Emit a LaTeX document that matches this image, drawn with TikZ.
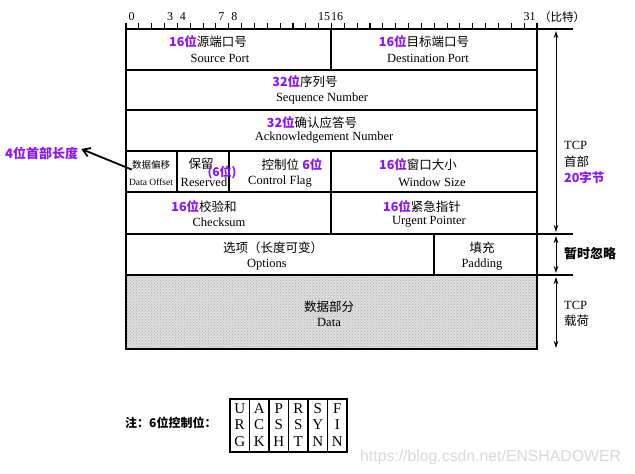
\documentclass[tikz,border=0pt]{standalone}
\usepackage{fontspec}
\setmainfont{Liberation Serif}
\newfontfamily\cjk{Noto Sans CJK SC}
\newfontfamily\wmfont{Liberation Sans}
\usetikzlibrary{arrows.meta,patterns}
\definecolor{bitpurple}{RGB}{140,20,250}

\newcommand\pb[1]{{\cjk\bfseries\color{bitpurple}#1}}
\newcommand\zh[1]{{\cjk #1}}

\tikzset{
  field/.style={inner sep=0pt,font=\fontsize{12.5}{14}\selectfont},
  small/.style={inner sep=0pt,font=\fontsize{9.5}{11}\selectfont},
  cell/.style={line width=1.8pt},
  span/.style={line width=0.9pt,<->,>={Stealth[length=7pt,width=4.5pt]}},
  flag/.style={inner sep=0pt,align=center,font=\fontsize{15}{16.3}\selectfont},
}

\begin{document}
\begin{tikzpicture}[x=1pt,y=-1pt]
\useasboundingbox[fill=white] (0,0) rectangle (635,474);

% data part background
\fill[gray!26] (126,275) rectangle (537,349);
\fill[pattern=crosshatch dots,pattern color=gray!65] (126,275) rectangle (537,349);

% ruler
\foreach \k in {0,...,32}
  \draw[line width=1.1pt] ({126+\k*12.844},29) -- ++(0,-6);
\foreach \b in {0,3,4,7,8,15,16,31}
  \node[inner sep=0pt,font=\fontsize{12}{12}\selectfont] (bit\b) at ({131.5+\b*12.844},17) {\b};
\node[inner sep=0pt,anchor=west,font=\fontsize{11.5}{12}\selectfont] (unit) at (539,17) {\zh{（比特）}};

% header grid
\draw[line width=2.6pt] (126,29) rectangle (537,349);
\foreach \y in {70,110,151,192,234,275}
  \draw[cell] (126,\y) -- (537,\y);
\draw[cell] (331,29) -- (331,70);
\draw[cell] (177,151) -- (177,192);
\draw[cell] (229,151) -- (229,192);
\draw[cell] (331,151) -- (331,234);
\draw[cell] (434,234) -- (434,275);

% right side marks
\draw[line width=1.1pt] (537,29) -- (573,29);
\draw[line width=1.1pt] (537,234) -- (573,234);
\draw[line width=1.1pt] (537,275) -- (573,275);

% fields
\node[field] (srczh) at (208,42) {\pb{16位}\zh{源端口号}};
\node[field] (srcen) at (220,58) {Source Port};
\node[field] (dstzh) at (424,42) {\pb{16位}\zh{目标端口号}};
\node[field] (dsten) at (428,58) {Destination Port};
\node[field] (seqzh) at (305,82) {\pb{32位}\zh{序列号}};
\node[field] (seqen) at (322,98) {Sequence Number};
\node[field] (ackzh) at (312,123) {\pb{32位}\zh{确认应答号}};
\node[field] (acken) at (324,138) {Acknowledgement Number};
\node[small] (offzh) at (151,165) {\zh{数据偏移}};
\node[small] (offen) at (151,182) {Data Offset};
\node[field] (rsvzh) at (201,164) {\zh{保留}};
\node[field] (rsven) at (204,182) {Reserved};
\node[field,font=\fontsize{12}{13}\selectfont] (rsvbits) at (222,172) {\pb{(6位)}};
\node[field] (flgzh) at (292,165) {\zh{控制位} \pb{6位}};
\node[field] (flgen) at (280,182) {Control Flag};
\node[field] (winzh) at (418,165) {\pb{16位}\zh{窗口大小}};
\node[field] (winen) at (432,182) {Window Size};
\node[field] (sumzh) at (204,207) {\pb{16位}\zh{校验和}};
\node[field] (sumen) at (219,222) {Checksum};
\node[field] (urgzh) at (422,207) {\pb{16位}\zh{紧急指针}};
\node[field] (urgen) at (429,222) {Urgent Pointer};
\node[field] (optzh) at (273,248) {\zh{选项（长度可变）}};
\node[field] (opten) at (267,265) {Options};
\node[field] (padzh) at (482,248) {\zh{填充}};
\node[field] (paden) at (482,265) {Padding};
\node[field] (datzh) at (329,307) {\zh{数据部分}};
\node[field] (daten) at (329,322) {Data};

% header length note
\node[field,anchor=west,font=\fontsize{13}{14}\selectfont] (hdrlen) at (5,153) {\pb{4位首部长度}};
\draw[line width=1.8pt,-{Straight Barb[length=7pt,width=9pt]}] (offzh.south west) -- ([xshift=3pt,yshift=4pt]hdrlen.east);

% right side spans
\coordinate (hdrtop) at (556,31);
\coordinate (hdrbot) at (556,232);
\coordinate (opttop) at (556,236);
\coordinate (optbot) at (556,273);
\coordinate (dattop) at (556,277);
\coordinate (datbot) at (556,348);
\draw[span] (hdrtop) -- (hdrbot);
\draw[span] (opttop) -- (optbot);
\draw[span] (dattop) -- (datbot);
\node[field,anchor=west] (hdrtcp) at (564,145) {TCP};
\node[field,anchor=west] (hdrzh) at (564,162) {\zh{首部}};
\node[field,anchor=west] (hdrsize) at (564,178) {\pb{20字节}};
\node[field,anchor=west,font=\fontsize{13}{14}\selectfont] (ignore) at (564,254) {\zh{\bfseries 暂时忽略}};
\node[field,anchor=west] (paytcp) at (564,305) {TCP};
\node[field,anchor=west] (payzh) at (564,321) {\zh{载荷}};

% control flag note
\node[field,anchor=west,font=\fontsize{12}{13}\selectfont] (note) at (125,423) {\zh{\bfseries 注：6位控制位：}};
\draw[line width=1.5pt] (230,399) rectangle (347,452);
\foreach \i/\fa/\fb/\fc in {0/U/R/G,1/A/C/K,2/P/S/H,3/R/S/T,4/S/Y/N,5/F/I/N}{
  \ifnum\i>0 \draw[line width=1.1pt] ({230+\i*19.5},399) -- ({230+\i*19.5},452); \fi
  \node[flag] (flag\i) at ({239.75+\i*19.5},425) {\fa\\\fb\\\fc};
}

% watermark
\node[inner sep=0pt,anchor=west,text=gray!30,font=\wmfont\fontsize{15.8}{17}\selectfont] (mark) at (360,457) {https://blog.csdn.net/ENSHADOWER};
\end{tikzpicture}
\end{document}
